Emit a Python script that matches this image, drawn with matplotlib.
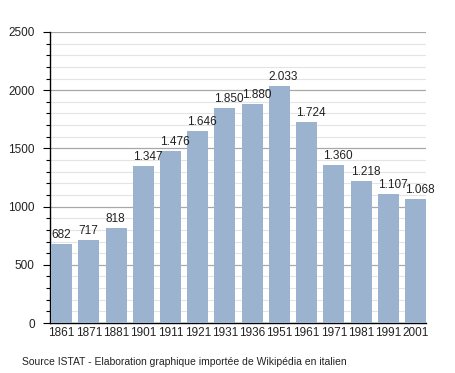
import matplotlib
matplotlib.use("Agg")
import matplotlib.pyplot as plt
from matplotlib.ticker import MultipleLocator

years = ["1861", "1871", "1881", "1901", "1911", "1921", "1931", "1936", "1951", "1961", "1971", "1981", "1991", "2001"]
population = [682, 717, 818, 1347, 1476, 1646, 1850, 1880, 2033, 1724, 1360, 1218, 1107, 1068]
source_text = "Source ISTAT - Elaboration graphique importée de Wikipédia en italien"

plt.rcParams['font.family'] = ['Liberation Sans', 'DejaVu Sans']
plt.rcParams['text.color'] = '#222222'

fig = plt.figure(figsize=(4.55, 3.73), dpi=100)
ax = fig.add_axes([50/455, 1-323/373, 376/455, 291/373])

x = list(range(len(years)))
bar_w = 0.77
ax.bar(x, population, width=bar_w, color="#9bb3cf", zorder=3, align="center")
ax.set_xlim(-bar_w/2 - 0.04, len(years) - 1 + bar_w/2)
ax.set_ylim(0, 2500)
ax.yaxis.set_major_locator(MultipleLocator(500))
ax.yaxis.set_minor_locator(MultipleLocator(100))
ax.grid(axis="y", which="major", color="#a8a8a8", linewidth=0.9, zorder=0)
ax.grid(axis="y", which="minor", color="#e4e4e4", linewidth=0.8, zorder=0)
ax.set_xticks(x)
ax.set_xticklabels(years)
ax.tick_params(axis="x", length=0, pad=3, labelsize=8.5, labelcolor="#222222")
ax.tick_params(axis="y", which="major", length=5, width=0.8, labelsize=8.5, pad=6, labelcolor="#222222")
ax.tick_params(axis="y", which="minor", length=3, width=0.8)
for s in ["top", "right"]:
    ax.spines[s].set_visible(False)
ax.spines["left"].set_linewidth(1)
ax.spines["bottom"].set_linewidth(1)

for xi, v in zip(x, population):
    s = f"{v:,}".replace(",", ".")
    ax.text(xi - bar_w/2, v + 25, s, fontsize=8.5, ha="left", va="bottom", zorder=4)

fig.text(22/455, 1-362/373, source_text, fontsize=7.5, ha="left", va="center")
fig.savefig("out.png", dpi=100)
